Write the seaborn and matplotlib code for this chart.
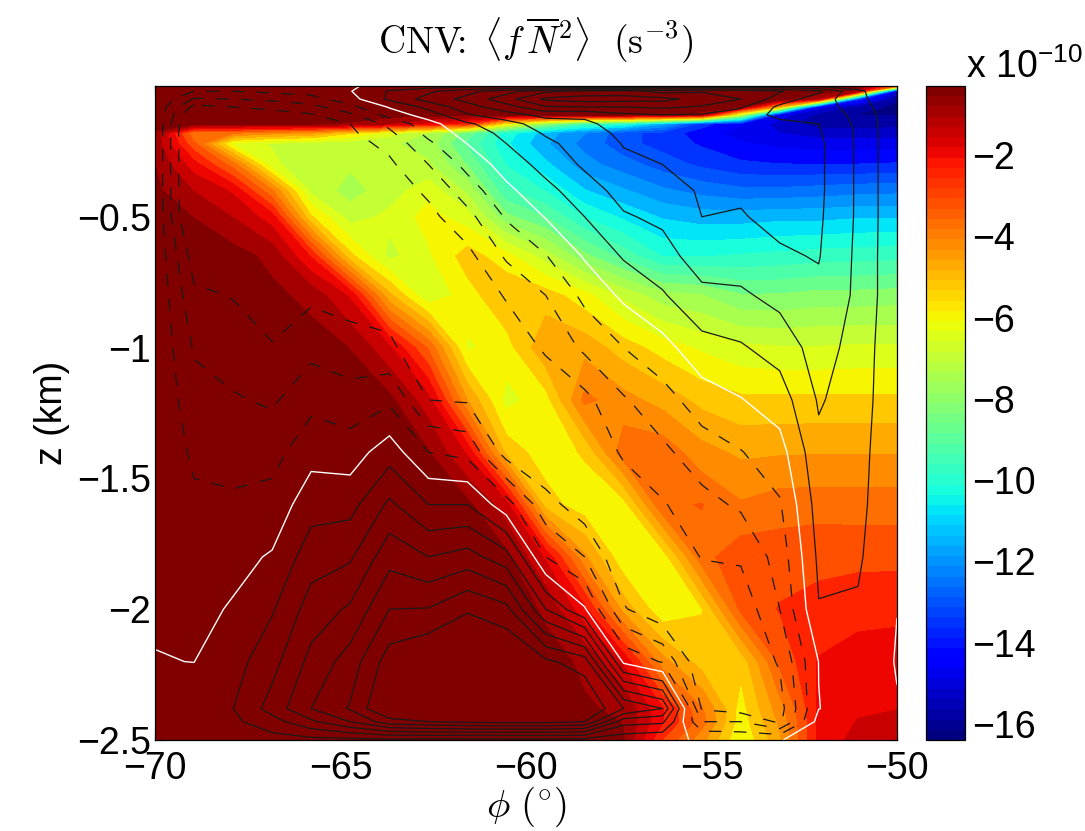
import numpy as np
import matplotlib
matplotlib.use("Agg")
import matplotlib.pyplot as plt
from matplotlib.cm import ScalarMappable
from matplotlib.colors import Normalize
import seaborn as sns

phi = [-70, -68.95, -67.89, -66.84, -65.79, -64.74, -63.68, -62.63, -61.58, -60.53,
       -59.47, -58.42, -57.37, -56.32, -55.26, -54.21, -53.16, -52.11, -51.05, -50]
z = [0, -0.02, -0.05, -0.08, -0.11, -0.145, -0.18, -0.22, -0.3, -0.4, -0.5, -0.65,
     -0.8, -1.0, -1.2, -1.4, -1.6, -1.8, -2.0, -2.2, -2.38, -2.43, -2.5]

# colour field, units of 1e-10 s^-3, one row per z
fn2 = [
    [-.5, -.5, -.5, -.5, -.5, -.5, -.5, -.5, -.5, -.5, -.5, -.5, -.5, -.5, -.5, -.5, -.5, -.5, -.6, -3.5],
    [-.5, -.5, -.5, -.5, -.5, -.5, -.5, -.5, -.5, -.5, -.5, -.5, -.5, -.5, -.5, -.5, -.5, -.6, -1.0, -15],
    [-.5, -.5, -.5, -.5, -.5, -.5, -.5, -.5, -.5, -.5, -.5, -.5, -.5, -.5, -.5, -.5, -.6, -1.5, -13.5, -15.8],
    [-.5, -.5, -.5, -.5, -.5, -.5, -.5, -.5, -.5, -.5, -.5, -.5, -.5, -.5, -.6, -.7, -5, -14.5, -15.6, -16],
    [-.5, -.5, -.5, -.5, -.5, -.5, -.6, -.6, -.6, -.6, -.6, -.6, -.6, -.7, -1, -7, -14.5, -15.5, -15.9, -15.9],
    [-.6, -.7, -.8, -.8, -.8, -.9, -1.4, -2.2, -2.8, -6, -8, -9.5, -10, -11.5, -13.5, -14.2, -15, -15.6, -15.6, -15.5],
    [-.9, -4, -4, -4.4, -4.6, -5.6, -6.5, -7.3, -8.6, -10.2, -11.3, -12.1, -13, -13.4, -14, -14.5, -14.8, -15.1, -15.1, -15.05],
    [-1, -3.4, -6.4, -6.8, -7, -7.1, -7.2, -7.5, -9, -10.4, -11.5, -12.3, -13, -13.4, -13.8, -14.2, -14.4, -14.5, -14.5, -14.5],
    [-.85, -2.2, -3.8, -6.6, -7.2, -7.2, -7.2, -7.2, -8.4, -10, -10.9, -11.9, -12.4, -12.9, -13.3, -13.6, -13.7, -13.7, -13.7, -13.65],
    [-.7, -1.4, -2, -4, -6.9, -7.5, -7, -6.4, -7.4, -9.3, -10, -11, -11.5, -12, -12.3, -12.5, -12.5, -12.4, -12.3, -12.25],
    [-.6, -.85, -1.4, -2.2, -5.6, -7, -6.6, -6, -6.5, -8.2, -8.9, -10, -10.6, -11.1, -11.3, -11.3, -11.2, -11.2, -11.1, -11.1],
    [-.5, -.5, -.6, -1, -2.5, -5.5, -6.9, -6.3, -5.4, -6, -7, -8.2, -9.1, -10, -10, -9.9, -9.8, -9.7, -9.65, -9.6],
    [-.5, -.5, -.5, -.7, -1, -2, -5, -6.7, -5.9, -5.2, -5.4, -6, -6.9, -7.6, -7.8, -8.3, -8.3, -8.15, -8.15, -8.1],
    [-.5, -.5, -.5, -.5, -.6, -.85, -1.8, -3.6, -6.3, -5.9, -4.7, -4.8, -5.4, -5.9, -6.3, -6.6, -6.7, -6.7, -6.65, -6.65],
    [-.4, -.4, -.4, -.4, -.4, -.6, -.7, -1.7, -4.6, -6.4, -5.9, -3.9, -4.4, -4.8, -5.3, -5.55, -5.55, -5.55, -5.55, -5.55],
    [-.4, -.4, -.4, -.4, -.4, -.4, -.6, -.8, -2, -5.3, -6, -5.6, -3.7, -3.7, -4.4, -4.7, -4.65, -4.63, -4.63, -4.63],
    [-.4, -.4, -.4, -.4, -.4, -.4, -.4, -.6, -.7, -1.7, -5.4, -6, -5.9, -3.6, -3.5, -4, -3.8, -3.77, -3.77, -3.77],
    [-.4, -.4, -.4, -.4, -.4, -.4, -.4, -.4, -.6, -.7, -2, -4.5, -6.1, -6, -3.7, -3.2, -3.2, -3.1, -3.15, -3.15],
    [-.4, -.4, -.4, -.4, -.4, -.4, -.4, -.4, -.4, -.6, -.9, -2.3, -4.8, -6.1, -5.7, -3.4, -2.95, -2.85, -2.6, -2.55],
    [-.4, -.4, -.4, -.4, -.4, -.4, -.4, -.4, -.4, -.4, -.7, -.9, -2, -4.4, -5.4, -5.5, -3.4, -2.4, -2.25, -2.25],
    [-.4, -.4, -.4, -.4, -.4, -.4, -.4, -.4, -.4, -.4, -.5, -.8, -.9, -2.4, -4, -5.9, -4.3, -2.35, -2, -1.92],
    [-.4, -.4, -.4, -.4, -.4, -.4, -.4, -.4, -.4, -.4, -.5, -.7, -.85, -2.4, -3.8, -6, -4.5, -2.35, -1.88, -1.8],
    [-.4, -.4, -.4, -.4, -.4, -.4, -.4, -.4, -.4, -.4, -.5, -.6, -.8, -3, -4.4, -6.2, -4.7, -2.3, -1.7, -1.7],
]

# overlay field for the line contours, one row per phi (transposed below)
overlay = [
    [-.05, -.05, -.05, -.05, -.05, -.05, -.05, -.05, -.05, -.05, -.05, -.05, -.05, -.05, -.05, -.05, -.05, -.05, -.1, .03, .25, .3, .3],
    [-.2, -1, -2.1, -3.3, -4.2, -4.7, -4.9, -4.9, -4.9, -4.9, -4.7, -3.5, -2.8, -2.1, -1.65, -1.2, -.8, -.55, -.3, -.01, .5, .5, .5],
    [-.2, -1, -2, -3, -3.6, -4, -4.3, -4.4, -4.4, -4.3, -4, -3.5, -3.05, -2.5, -1.9, -1.35, -.85, -.3, .1, .6, 1, .8, .6],
    [-.15, -.8, -1.75, -2.75, -3.4, -3.7, -3.9, -4, -4.1, -4.1, -4, -3.7, -3.4, -2.95, -2.15, -1.35, -.65, .1, .9, 1.65, 2.4, 1.6, .6],
    [-.1, -.6, -1.4, -2.3, -3.1, -3.4, -3.6, -3.7, -3.8, -3.8, -3.7, -3.5, -3.2, -2.3, -1.3, -.35, .6, 1.55, 2.45, 3.3, 4, 2.8, .7],
    [-.1, -.05, -.4, -1.3, -2.2, -3, -3.2, -3.4, -3.6, -3.7, -3.7, -3.6, -3.4, -2.6, -1.6, -.5, .65, 1.85, 3.15, 4.45, 5.1, 4, .7],
    [.3, 1.1, 1.2, .1, -.6, -1.75, -2.2, -2.7, -3.2, -3.6, -3.7, -3.7, -3.5, -2.8, -1.2, .55, 2.2, 3.65, 5, 6.5, 7.2, 5.6, .7],
    [.4, 1.8, 2.4, 1.3, .5, -.4, -.7, -1.2, -2, -2.8, -3.3, -3.7, -3.8, -3.8, -3, -1, 1, 3, 5.05, 7.1, 7.2, 6, .6],
    [.5, 2.7, 3.3, 2.6, 1.9, .85, .4, .02, -.7, -1.5, -2.3, -3.3, -3.8, -3.9, -3.1, -1.3, 1, 3.4, 5.9, 7.2, 7.2, 6.2, .6],
    [.6, 3.6, 4.6, 3.6, 2.6, 1.6, 1.3, 1, .45, -.25, -.9, -1.85, -2.9, -3.7, -3.9, -3.4, -.6, 2.4, 5.3, 7.2, 7.2, 6.3, .6],
    [.6, 4.8, 6.2, 4.9, 3.3, 2.5, 2.1, 1.8, 1.35, .7, .05, -1.05, -2, -2.85, -3.8, -3.95, -2.6, -1, 2, 6.2, 7.2, 6.3, .6],
    [.7, 5.3, 6.5, 5, 3.2, 2.8, 2.6, 2.4, 2.15, 1.55, 1, .1, -.75, -1.8, -3.3, -3.9, -3.6, -2, .1, 5.5, 7.1, 6, .6],
    [.7, 5.5, 6.4, 5, 3.8, 3.4, 3.2, 3.05, 2.8, 2.35, 1.9, 1.1, .2, -1, -2.1, -2.85, -3.7, -3.9, -2.9, -.2, 5, 2.4, .3],
    [.7, 4.6, 6.3, 5.2, 4, 3.8, 3.6, 3.4, 3, 2.6, 2.2, 1.6, .9, -.35, -1.4, -2.2, -3.1, -3.8, -3.8, -1.1, 4, 2.2, .1],
    [.7, 4.9, 5.6, 4.9, 3.9, 3.6, 3.5, 3.4, 3.25, 3.1, 3, 2.5, 1.75, .65, -.5, -1.5, -2.3, -2.95, -3.9, -3.9, -3.1, -2, -.05],
    [.8, 4.7, 5, 4.1, 3.6, 3.5, 3.5, 3.4, 3.3, 3.1, 2.95, 2.5, 1.85, .9, -.05, -1.05, -1.85, -2.85, -3.7, -3.8, -3.5, -2, -.2],
    [1, 4.1, 3.5, 2.8, 2.7, 3.3, 3.4, 3.4, 3.4, 3.4, 3.2, 2.9, 2.3, 1.4, .5, -.4, -1.1, -1.6, -2, -2.9, -3.4, -3.2, -.05],
    [.8, 3.2, 2.5, 2.5, 2.7, 3, 3.1, 3.2, 3.2, 3.2, 3.15, 3.05, 2.8, 2.45, 2.1, 1.75, 1.45, 1.2, .95, .02, -.02, .4, .5],
    [.5, 1.2, 1.3, 1.5, 1.7, 1.8, 1.85, 1.85, 1.85, 1.85, 1.85, 1.8, 1.8, 1.6, 1.5, 1.35, 1.27, 1.13, .9, .55, .45, .4, .4],
    [.1, .1, .1, .15, .2, .2, .2, .2, .2, .2, .2, .2, .2, .2, .2, .2, .15, .1, .01, -.05, .05, .1, .1],
]

neg_levels = [-3, -2, -1]
pos_levels = [1, 2, 3, 4, 5, 6]
x_ticks = [-70, -65, -60, -55, -50]
y_ticks = [-2.5, -2, -1.5, -1, -0.5]
y_labels = ["\u22122.5", "\u22122", "\u22121.5", "\u22121", "\u22120.5"]
cbar_ticks = [-16, -14, -12, -10, -8, -6, -4, -2]

sns.set_theme(style="ticks", rc={"axes.linewidth": 0.9, "xtick.direction": "in", "ytick.direction": "in",
                                 "text.color": "black", "axes.labelcolor": "black", "axes.edgecolor": "black",
                                 "xtick.color": "black", "ytick.color": "black"})
plt.rcParams["font.family"] = ["Liberation Sans", "DejaVu Sans"]
plt.rcParams["mathtext.fontset"] = "cm"

fig = plt.figure(figsize=(10.85, 8.31), dpi=100)
W, H = 1085, 831
ax = fig.add_axes([155 / W, 1 - 740 / H, 742 / W, 654 / H])
cax = fig.add_axes([926 / W, 1 - 740 / H, 39 / W, 654 / H])

# field drawn with 30 filled levels, colour bar shows all 64 map entries
jet64 = plt.get_cmap("jet", 64)
ax.contourf(phi, z, fn2, levels=np.linspace(-16.4, -0.3, 31), cmap=jet64, norm=Normalize(-16.13, -0.57))
psi = np.array(overlay).T
ax.contour(phi, z, psi, levels=neg_levels, colors="k", linewidths=0.9, linestyles=[(0, (10, 10))])
ax.contour(phi, z, psi, levels=pos_levels, colors="k", linewidths=0.9, linestyles="solid")
ax.contour(phi, z, psi, levels=[0], colors="white", linewidths=1.0, linestyles="solid")

ax.set_xlim(-70, -50)
ax.set_ylim(-2.5, 0)
ax.set_xticks(x_ticks)
ax.set_yticks(y_ticks)
ax.set_yticklabels(y_labels)
ax.tick_params(labelsize=27, length=5, width=0.8, top=True, right=True)
ax.tick_params(axis="x", pad=8)
ax.tick_params(axis="y", pad=3)
ax.set_xlabel(r"$\phi\ (^{\circ})$", fontsize=28, labelpad=-2)
ax.set_ylabel("z (km)", fontsize=27, labelpad=5)
ax.set_title(r"$\mathrm{CNV}\!\!:\ \langle f\,\overline{N}^{2}\rangle\ \ (\mathrm{s}^{-3})$", fontsize=27, pad=23, x=0.513)

cb = fig.colorbar(ScalarMappable(norm=Normalize(-16.4, -0.3), cmap=jet64), cax=cax, ticks=cbar_ticks)
cb.ax.tick_params(labelsize=27, length=5, width=0.8, direction="in", left=True, right=True, pad=5)
cb.ax.minorticks_off()
fig.text(966 / W, 1 - 78 / H, "x 10$^{\\mathregular{\u221210}}$", fontsize=27, math_fontfamily="dejavusans")

fig.savefig("out.png", dpi=100)
